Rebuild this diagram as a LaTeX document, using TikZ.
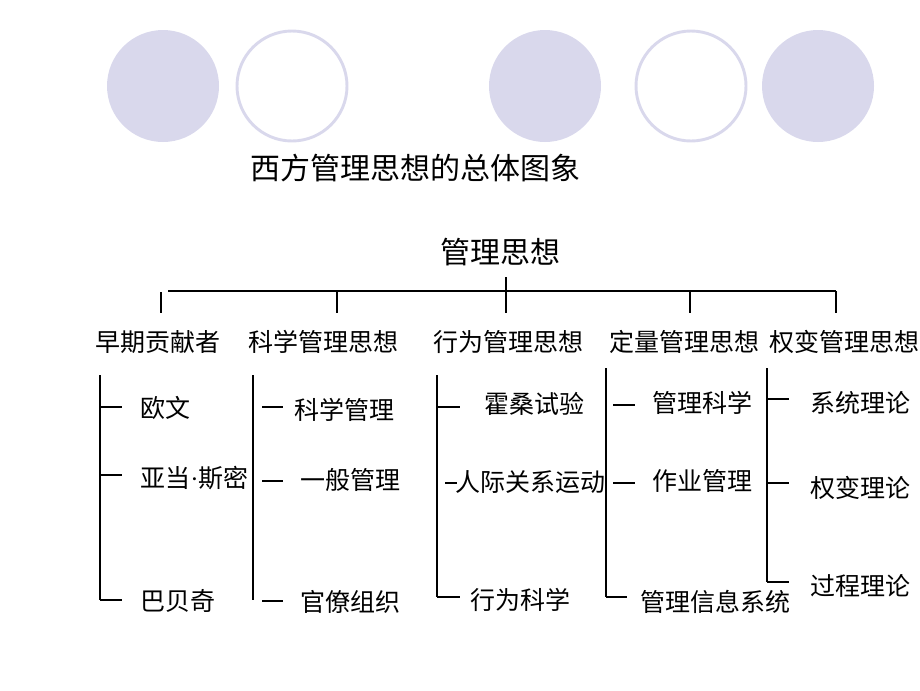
\documentclass[tikz,border=0pt]{standalone}
\usepackage{fontspec}
\newfontfamily\cjk{Noto Sans CJK SC}
\newfontfamily\latin{Liberation Serif}
\definecolor{lilac}{HTML}{D9D8EC}

\begin{document}
\begin{tikzpicture}[x=0.75pt,y=-0.75pt,
	lbl/.style={anchor=west,inner sep=0pt,font=\cjk\fontsize{18.75}{20}\selectfont},
	big/.style={anchor=west,inner sep=0pt,font=\cjk\fontsize{22.5}{24}\selectfont},
	ln/.style={line width=0.9pt}]
	\useasboundingbox (0,0) rectangle (920,690);
	
	% the five discs on top
	\foreach \x in {163,545,818}
	\fill [lilac] (\x,86) circle (56);
	\foreach \x in {292,691}
	\draw [lilac,line width=2.2pt] (\x,86) circle (55);
	
	\node (title) [big] at (250,168) {西方管理思想的总体图象};
	\node (root) [big] at (440,252) {管理思想};
	
	\foreach \i/\x/\t in {1/95/早期贡献者,2/248/科学管理思想,3/433/行为管理思想,4/609/定量管理思想,5/769/权变管理思想}
	\node (h\i) [lbl] at (\x,342) {\t};
	
	\foreach \n/\x/\y/\t in {11/140/408/欧文,12/140/478/亚当{\latin ·}斯密,13/140/601/巴贝奇,
		21/294/410/科学管理,22/300/480/一般管理,23/300/602/官僚组织,
		31/484/404/霍桑试验,32/455/482/人际关系运动,33/470/600/行为科学,
		41/652/403/管理科学,42/652/481/作业管理,43/640/602/管理信息系统,
		51/810/403/系统理论,52/810/488/权变理论,53/810/586/过程理论}
	\node (c\n) [lbl] at (\x,\y) {\t};
	
	% bus under the root
	\coordinate (r0) at (506,277);
	\coordinate (bl) at (168,291);
	\coordinate (br) at (836,291);
	\draw [ln] (bl) -- (br);
	\foreach \i/\x in {2/337,3/506,4/690,5/836}{
		\coordinate (t\i) at (\x,291);
		\coordinate (u\i) at (\x,313);
		\draw [ln] (t\i) -- (u\i);
	}
	\draw [ln] (r0) -- (t3);
	\coordinate (t1) at (161,292);
	\coordinate (u1) at (161,313);
	\draw [ln] (t1) -- (u1);
	
	% column brackets
	\foreach \c/\x/\ya/\yb in {1/100/375/600,2/253/375/600,3/437/375/597,4/606/368/597,5/767/368/582}{
		\coordinate (vt\c) at (\x,\ya);
		\coordinate (vb\c) at (\x,\yb);
		\draw [ln] (vt\c) -- (vb\c);
	}
	\foreach \n/\xa/\xb/\y in {11/100/122/407,12/100/122/475,13/100/122/600,
		21/262/283/407,22/262/283/481,23/262/283/601,
		31/437/460/407,32/445/457/483,33/437/460/597,
		41/613/635/405,42/613/635/483,43/606/627/597,
		51/767/789/399,52/767/789/483,53/767/789/582}{
		\coordinate (p\n) at (\xa,\y);
		\coordinate (q\n) at (\xb,\y);
		\draw [ln] (p\n) -- (q\n);
	}
	
\end{tikzpicture}
\end{document}
